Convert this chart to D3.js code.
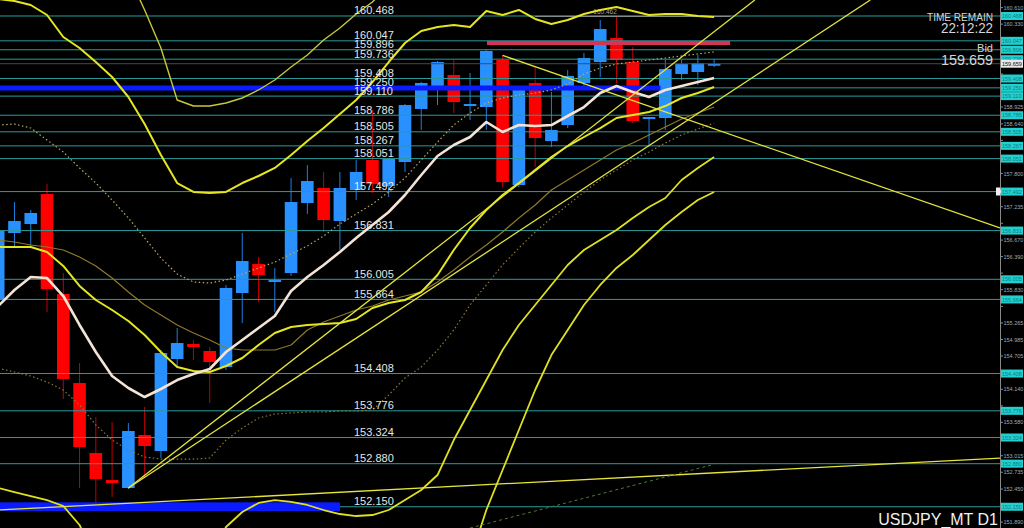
<!DOCTYPE html>
<html><head><meta charset="utf-8">
<script src="https://cdn.jsdelivr.net/npm/d3@7"></script>
<style>html,body{margin:0;padding:0;background:#000;overflow:hidden}</style>
</head><body>
<svg id="chart" width="1024" height="528"></svg>
<script>
// ---------- DATA ----------
const symbolLabel = "USDJPY_MT D1";
const bidPrice = 159.659;
const timeRemain = "22:12:22";
const highLabel = 160.462;

const opens  = [155.654,156.790,156.942,157.451,155.756,154.247,153.061,152.603,152.468,153.366,153.095,154.654,154.908,154.790,154.519,155.773,156.264,155.959,156.112,157.298,157.553,156.993,157.519,158.027,157.586,157.993,158.892,159.247,159.468,158.942,158.925,159.722,157.603,159.332,158.349,158.620,159.332,159.688,160.095,159.688,158.722,158.739,159.485,159.519,159.655];
const highs  = [156.925,157.315,157.180,157.620,156.112,154.586,153.671,153.586,153.569,153.841,154.807,155.180,154.976,154.858,155.909,156.790,156.383,156.197,157.722,157.942,157.824,157.824,158.027,158.875,158.061,158.976,159.350,159.705,159.722,159.502,159.890,159.807,159.280,159.603,159.180,159.553,159.841,160.400,160.462,159.942,158.760,159.722,159.722,159.807,159.740];
const lows   = [155.570,156.553,156.553,155.451,153.976,152.468,152.214,152.315,152.450,152.654,152.976,154.536,154.637,153.909,154.468,155.264,155.620,155.451,156.061,157.112,156.807,156.502,157.349,157.468,157.400,157.824,158.536,158.959,158.824,158.705,158.536,157.569,157.569,157.909,158.247,158.569,159.214,159.434,159.332,158.654,158.281,158.536,159.383,159.298,159.600];
const closes = [156.824,156.993,157.129,155.841,154.315,153.163,152.620,152.552,153.434,153.180,154.756,154.925,154.858,154.603,155.858,156.315,156.078,155.993,157.315,157.671,157.010,157.553,157.824,157.620,158.044,158.959,159.332,159.688,159.010,158.976,159.875,157.654,159.264,158.400,158.536,159.451,159.756,160.247,159.722,158.688,158.756,159.570,159.654,159.671,159.659];

// fast moving average (cream line)
const maFast = [155.553,155.824,156.044,156.027,155.722,155.231,154.773,154.366,154.163,154.010,154.146,154.298,154.400,154.485,154.773,154.976,155.180,155.383,155.807,156.044,156.248,156.468,156.705,156.925,157.146,157.434,157.773,158.095,158.281,158.417,158.671,158.502,158.620,158.603,158.620,158.773,158.925,159.163,159.281,159.180,159.095,159.214,159.281,159.349,159.417];
// slow moving average (dim olive line)
const maSlow = [156.671,156.637,156.587,156.553,156.502,156.383,156.231,156.027,155.790,155.570,155.400,155.231,155.095,154.976,154.841,154.807,154.807,154.807,154.892,155.146,155.281,155.383,155.485,155.553,155.654,155.722,155.790,155.959,156.163,156.383,156.587,156.807,157.044,157.264,157.519,157.688,157.858,158.027,158.197,158.315,158.451,158.587,158.722,158.824,158.925];
// band centre (dotted)
const bandMid = [158.620,158.637,158.569,158.366,158.163,157.892,157.637,157.349,157.044,156.705,156.366,156.095,155.959,155.942,155.993,156.095,156.197,156.298,156.434,156.570,156.739,156.942,157.112,157.281,157.485,157.722,158.027,158.332,158.620,158.824,158.993,159.078,159.129,159.163,159.214,159.315,159.485,159.586,159.654,159.688,159.722,159.756,159.790,159.824,159.858];
// +1 sigma
const bandUp1 = [160.756,160.722,160.654,160.485,160.112,159.925,159.688,159.434,159.095,158.637,158.112,157.637,157.485,157.468,157.485,157.637,157.756,157.892,158.112,158.349,158.570,158.807,159.044,159.349,159.688,160.010,160.214,160.281,160.315,160.281,160.553,160.485,160.570,160.417,160.332,160.400,160.502,160.570,160.620,160.553,160.485,160.502,160.502,160.468,160.451];
// -1 sigma
const bandDn1 = [156.553,156.553,156.553,156.468,156.231,155.892,155.654,155.485,155.298,155.061,154.773,154.519,154.451,154.434,154.536,154.671,154.892,155.095,155.197,155.231,155.248,155.264,155.332,155.519,155.603,155.654,155.790,156.078,156.502,156.875,157.180,157.434,157.637,157.858,158.078,158.264,158.417,158.569,158.739,158.790,158.841,158.942,159.078,159.163,159.264];
// +2 sigma (visible part, starts at candle 8)
const bandUp2Start = 8;
const bandUp2 = [161.163,160.570,159.925,159.044,158.942,158.942,158.993,159.078,159.214,159.383,159.603,159.807,160.061,160.264,160.502,160.705,160.993];
// -2 sigma (dotted)
const bandDn2 = [154.498,154.434,154.366,154.264,154.129,153.875,153.536,153.281,153.112,152.993,152.959,152.959,152.959,152.976,153.281,153.485,153.654,153.722,153.739,153.756,153.756,153.773,153.773,153.790,154.044,154.332,154.519,154.807,155.146,155.570,155.909,156.248,156.536,156.807,157.044,157.264,157.485,157.688,157.858,158.027,158.163,158.315,158.451,158.553,158.654];
// -3 sigma
const bandDn3 = [152.468,152.400,152.332,152.264,152.163,151.841,151.247,150.908,150.908,150.908,150.908,150.908,150.908,151.247,151.807,152.061,152.214,152.264,152.231,152.180,152.095,152.027,151.993,152.010,152.095,152.264,152.434,152.688,153.281,153.790,154.298,154.807,155.231,155.570,155.909,156.248,156.502,156.671,156.841,157.044,157.231,157.383,157.688,157.892,158.078];
// -4 sigma (visible part, starts at candle 29)
const bandDn4Start = 29;
const bandDn4 = [151.247,152.095,152.773,153.451,154.129,154.722,155.146,155.570,155.909,156.197,156.417,156.671,156.925,157.146,157.349,157.485];

// horizontal levels with their labels
const levels = [160.468,160.047,159.896,159.736,159.408,159.250,159.110,158.786,158.505,158.267,158.051,157.492,156.831,156.005,155.664,154.408,153.776,153.324,152.880,152.150];
// right-axis ticks
const axisTicks = [160.610,160.330,160.050,159.765,159.485,159.205,158.925,158.640,158.360,158.080,157.800,157.515,157.235,156.955,156.670,156.390,156.110,155.830,155.545,155.265,154.985,154.705,154.420,154.140,153.860,153.580,153.295,153.015,152.735,152.450,152.170,151.890];

// zones: [fromIndex, toIndex, lowPrice, highPrice]
const blueZoneTop = [-1, 40.7, 159.205, 159.290];
const blueZoneBottom = [-1, 21.0, 152.078, 152.225];
const redZone = [30.04, 44.98, 159.975, 160.045];
const highLine = [33, 45, 160.462];

// trend lines: [[index, price], [index, price]]
const trendUp1 = [[8, 152.468], [46.5, 160.739]];
const trendUp2 = [[8, 152.468], [53.6, 160.739]];
const trendDown = [[31, 159.800], [61.57, 156.875]];
const trendFlat = [[0, 152.095], [61.57, 152.976]];
const trendDash = [[29, 151.790], [44, 152.870]];

// ---------- CHART ----------
const W = 1024, H = 528, PR = 1000;
const FONT = "Liberation Sans, Arial, sans-serif";
const svg = d3.select("#chart");
const xs = d3.scaleLinear().domain([0, 61.57]).range([-1.8, PR]);
const ys = d3.scaleLinear().domain([151.790, 160.739]).range([H, 0]);
const fmt = d3.format(".3f");

svg.append("rect").attr("width", W).attr("height", H).attr("fill", "#000");
svg.append("defs").append("clipPath").attr("id", "plot")
  .append("rect").attr("x", 0).attr("y", 0).attr("width", PR).attr("height", H);
const g = svg.append("g").attr("clip-path", "url(#plot)");

// candles
const candles = opens.map((o, i) => ({i, o, h: highs[i], l: lows[i], c: closes[i]}));
const bw = 12.6;
const cg = g.append("g");
cg.selectAll("line.wick").data(candles).join("line")
  .attr("x1", d => xs(d.i)).attr("x2", d => xs(d.i))
  .attr("y1", d => ys(d.h)).attr("y2", d => ys(d.l))
  .attr("stroke", d => d.c >= d.o ? "#1c7fe0" : "#c00000").attr("stroke-width", 1);
cg.selectAll("rect.body").data(candles).join("rect")
  .attr("x", d => xs(d.i) - bw / 2).attr("width", bw)
  .attr("y", d => ys(Math.max(d.o, d.c)))
  .attr("height", d => Math.max(2, Math.abs(ys(d.o) - ys(d.c))))
  .attr("fill", d => d.c >= d.o ? "#2890ff" : "#ff0000");

// horizontal levels
g.selectAll("line.lvl").data(levels).join("line")
  .attr("x1", 0).attr("x2", PR).attr("y1", d => ys(d)).attr("y2", d => ys(d))
  .attr("stroke", "#2a9b9b").attr("stroke-width", 1);
// bid line
g.append("line").attr("x1", 0).attr("x2", PR).attr("y1", ys(bidPrice)).attr("y2", ys(bidPrice))
  .attr("stroke", "#4a4a4a").attr("stroke-width", 1);
// zones
function zone(z, color) {
  g.append("rect").attr("x", xs(z[0])).attr("width", xs(z[1]) - xs(z[0]))
    .attr("y", ys(z[3])).attr("height", ys(z[2]) - ys(z[3])).attr("fill", color);
}
zone(blueZoneTop, "#0a1cff");
zone(blueZoneBottom, "#0a1cff");
zone(redZone, "#d2345a");
g.append("line").attr("x1", xs(highLine[0])).attr("x2", xs(highLine[1]))
  .attr("y1", ys(highLine[2])).attr("y2", ys(highLine[2]))
  .attr("stroke", "#9a9a9a").attr("stroke-width", 1);
g.append("text").attr("x", xs(37.3)).attr("y", ys(highLine[2]) - 2)
  .attr("text-anchor", "middle").attr("font-family", FONT)
  .attr("font-size", 6.5).attr("fill", "#a0a0a0").text(fmt(highLabel));

// indicator lines
function series(arr, start, color, width, dash) {
  const line = d3.line().x((d, k) => xs(start + k)).y(d => ys(d));
  const p = g.append("path").datum(arr).attr("d", line).attr("fill", "none")
    .attr("stroke", color).attr("stroke-width", width)
    .attr("stroke-linejoin", "round");
  if (dash) p.attr("stroke-dasharray", dash);
}
series(maSlow, 0, "#8c7a2a", 1.2);
series(bandDn2, 0, "#8a7838", 1.2, "1.5,2.5");
series(bandMid, 0, "#b8a860", 1.2, "1.5,2.5");
series(bandUp2, bandUp2Start, "#c8c83a", 1.4);
series(bandDn3, 0, "#e0e020", 1.8);
series(bandDn4, bandDn4Start, "#e0e020", 1.8);
series(bandUp1, 0, "#e6e620", 2);
series(bandDn1, 0, "#e6e620", 2);
series(maFast, 0, "#f4e4d6", 2.6);

// trend lines
function trend(t, color, width, dash) {
  const p = g.append("line").attr("x1", xs(t[0][0])).attr("y1", ys(t[0][1]))
    .attr("x2", xs(t[1][0])).attr("y2", ys(t[1][1]))
    .attr("stroke", color).attr("stroke-width", width);
  if (dash) p.attr("stroke-dasharray", dash);
}
trend(trendUp1, "#e4e43c", 1.3);
trend(trendUp2, "#e4e43c", 1.3);
trend(trendDown, "#e4e43c", 1.3);
trend(trendFlat, "#e4e43c", 1.3);
trend(trendDash, "#4f7a36", 1, "3,3");

// level labels
svg.append("g").selectAll("text").data(levels).join("text")
  .attr("x", 354).attr("y", d => ys(d) - 1.5)
  .attr("font-family", FONT).attr("font-size", 11)
  .attr("fill", "#e6e6e6").text(d => fmt(d));

// right axis
const ax = svg.append("g");
ax.append("line").attr("x1", PR + 0.5).attr("x2", PR + 0.5).attr("y1", 0).attr("y2", H)
  .attr("stroke", "#8a8a8a").attr("stroke-width", 1);
ax.selectAll("line.tk").data(axisTicks).join("line")
  .attr("x1", PR).attr("x2", PR + 3).attr("y1", d => ys(d)).attr("y2", d => ys(d))
  .attr("stroke", "#8a8a8a");
// ticks whose label is hidden behind a level box are not labelled
const boxed = levels.concat([bidPrice]);
const freeTicks = axisTicks.filter(t => d3.min(boxed, b => Math.abs(ys(b) - ys(t))) >= 7.5);
ax.selectAll("text.tk").data(freeTicks).join("text")
  .attr("x", PR + 3.5).attr("y", d => ys(d) + 2.1)
  .attr("font-family", FONT).attr("font-size", 5.5)
  .attr("fill", "#a8a8a8").text(d => fmt(d));
const lb = ax.selectAll("g.lb").data(levels).join("g");
lb.append("rect").attr("x", PR + 1).attr("y", d => ys(d) - 4).attr("width", 22).attr("height", 8)
  .attr("fill", "#22d0d0");
lb.append("text").attr("x", PR + 2).attr("y", d => ys(d) + 2.1)
  .attr("font-family", FONT).attr("font-size", 5.5)
  .attr("fill", "#0e7f80").text(d => fmt(d));
ax.append("rect").attr("x", PR + 1).attr("y", ys(bidPrice) - 4).attr("width", 22).attr("height", 8)
  .attr("fill", "#e8e8e8");
ax.append("text").attr("x", PR + 2).attr("y", ys(bidPrice) + 2.1)
  .attr("font-family", FONT).attr("font-size", 5.5)
  .attr("fill", "#111").text(fmt(bidPrice));
const ay = ys(levels[11]);
ax.append("path").attr("d", `M${PR - 4},${ay - 4}L${PR},${ay - 4}L${PR + 1},${ay}L${PR},${ay + 4}L${PR - 4},${ay + 4}Z`)
  .attr("fill", "#f0f0f0");

// info texts
const info = svg.append("g").attr("font-family", FONT)
  .attr("fill", "#d6d6d6").attr("text-anchor", "end");
info.append("text").attr("x", 993).attr("y", 21).attr("font-size", 11)
  .attr("textLength", 66).attr("lengthAdjust", "spacingAndGlyphs").text("TIME REMAIN");
info.append("text").attr("x", 993).attr("y", 33).attr("font-size", 14)
  .attr("textLength", 52).attr("lengthAdjust", "spacingAndGlyphs").text(timeRemain);
info.append("text").attr("x", 993).attr("y", 52).attr("font-size", 11).text("Bid");
info.append("text").attr("x", 993).attr("y", 65).attr("font-size", 14.5)
  .attr("textLength", 52).attr("lengthAdjust", "spacingAndGlyphs").text(fmt(bidPrice));
svg.append("text").attr("x", 998).attr("y", 525).attr("text-anchor", "end")
  .attr("font-family", FONT).attr("font-size", 16)
  .attr("fill", "#f0f0f0").text(symbolLabel);
</script>
</body></html>
